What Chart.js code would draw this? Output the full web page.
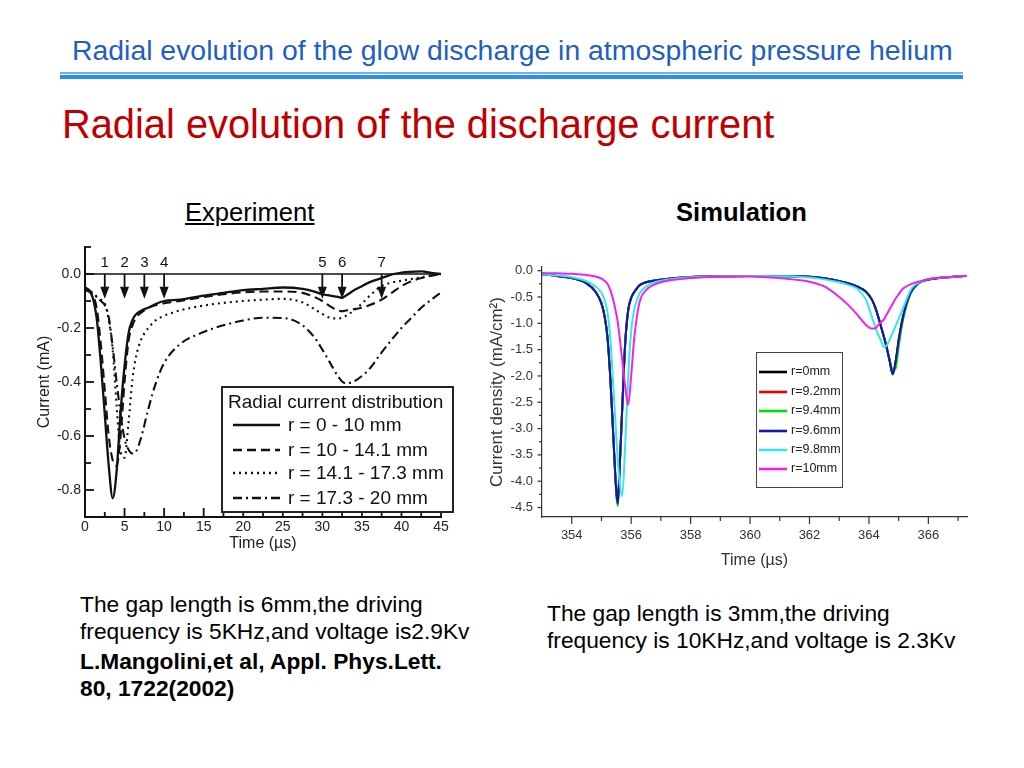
<!DOCTYPE html>
<html><head><meta charset="utf-8">
<script src="https://cdn.jsdelivr.net/npm/chart.js@4.4.1/dist/chart.umd.min.js"></script>
<style>
body{margin:0;width:1024px;height:768px;background:#fff;position:relative;overflow:hidden;font-family:"Liberation Sans",Arial,sans-serif;color:#000;}
.t{position:absolute;white-space:nowrap;line-height:1.2;}
canvas{position:absolute;}
</style></head><body>
<div class="t" style="left:72px;top:33px;font-size:28.4px;color:#1f5fbf">Radial evolution of the glow discharge in atmospheric pressure helium</div>
<div style="position:absolute;left:60px;top:72px;width:903px;height:2px;background:#6ab4f5"></div>
<div style="position:absolute;left:60px;top:75px;width:903px;height:4px;background:#2a8cee"></div>
<div class="t" style="left:62px;top:101px;font-size:39.8px;color:#c00000">Radial evolution of the discharge current</div>
<div class="t" style="left:185px;top:197px;font-size:25.6px;text-decoration:underline">Experiment</div>
<div class="t" style="left:676px;top:197px;font-size:25.6px;font-weight:bold">Simulation</div>

<div class="t" style="left:80px;top:591px;font-size:22.75px">The gap length is 6mm,the driving</div>
<div class="t" style="left:80px;top:618px;font-size:22.75px">frequency is 5KHz,and voltage is2.9Kv</div>
<div class="t" style="left:80px;top:648px;font-size:22.75px;font-weight:bold">L.Mangolini,et al, Appl. Phys.Lett.</div>
<div class="t" style="left:80px;top:675px;font-size:22.75px;font-weight:bold">80, 1722(2002)</div>
<div class="t" style="left:547px;top:600px;font-size:22.75px">The gap length is 3mm,the driving</div>
<div class="t" style="left:547px;top:627px;font-size:22.75px">frequency is 10KHz,and voltage is 2.3Kv</div>

<canvas id="c1" width="480" height="340" style="left:0px;top:230px;width:480px;height:340px"></canvas>
<canvas id="c2" width="544" height="340" style="left:480px;top:240px;width:544px;height:340px"></canvas>

<script>
// ---------- Experiment (left) data ----------
const tL = [0,0.5,1,1.5,2,2.5,3,3.5,4,4.5,5,5.5,6,6.5,7,7.5,8,9,10,12,15,17.5,20,22.5,25,27.5,29,30,31,32,32.5,33,34,35,36,37.5,39,40,41,42.5,44,45];
const expR0_10 = [-0.05,-0.06,-0.09,-0.17,-0.33,-0.52,-0.71,-0.83,-0.73,-0.51,-0.34,-0.22,-0.17,-0.148,-0.138,-0.13,-0.125,-0.11,-0.10,-0.095,-0.08,-0.07,-0.06,-0.055,-0.05,-0.055,-0.065,-0.075,-0.08,-0.085,-0.088,-0.08,-0.06,-0.045,-0.03,-0.015,0.0,0.005,0.008,0.01,0.003,0.0];
const expR10_141 = [-0.06,-0.065,-0.08,-0.13,-0.26,-0.43,-0.6,-0.69,-0.71,-0.6,-0.4,-0.25,-0.19,-0.16,-0.145,-0.135,-0.125,-0.115,-0.108,-0.1,-0.085,-0.075,-0.068,-0.065,-0.065,-0.07,-0.085,-0.1,-0.12,-0.135,-0.138,-0.135,-0.13,-0.125,-0.115,-0.095,-0.065,-0.045,-0.03,-0.015,-0.005,0.0];
const expR141_173 = [-0.06,-0.065,-0.075,-0.085,-0.095,-0.11,-0.17,-0.28,-0.49,-0.66,-0.68,-0.55,-0.39,-0.3,-0.25,-0.22,-0.2,-0.17,-0.155,-0.135,-0.117,-0.107,-0.1,-0.095,-0.092,-0.105,-0.13,-0.148,-0.162,-0.165,-0.162,-0.155,-0.135,-0.11,-0.08,-0.045,-0.03,-0.025,-0.02,-0.012,-0.005,0.0];
const expR173_20 = [-0.05,-0.06,-0.07,-0.085,-0.1,-0.115,-0.16,-0.27,-0.4,-0.52,-0.61,-0.65,-0.665,-0.655,-0.615,-0.56,-0.5,-0.4,-0.33,-0.26,-0.215,-0.19,-0.172,-0.162,-0.163,-0.19,-0.235,-0.28,-0.33,-0.38,-0.398,-0.405,-0.398,-0.378,-0.35,-0.29,-0.235,-0.2,-0.17,-0.125,-0.09,-0.068];
const expLabels = ['r = 0 - 10 mm','r = 10 - 14.1 mm','r = 14.1 - 17.3 mm','r = 17.3 - 20 mm'];
const leftXTicks = [0,5,10,15,20,25,30,35,40,45];
const leftYTicks = [0.0,-0.2,-0.4,-0.6,-0.8];
const arrowTimes = [2.5,5,7.5,10,30,32.5,37.5];
const arrowLabels = ['1','2','3','4','5','6','7'];

// ---------- Simulation (right) data ----------
const tR = [353,353.5,354,354.5,354.8,355,355.1,355.2,355.3,355.4,355.5,355.55,355.6,355.7,355.8,355.9,356,356.1,356.2,356.3,356.5,356.8,357,357.5,358,359,360,361,361.5,362,362.5,363,363.3,363.6,363.9,364.1,364.2,364.3,364.4,364.5,364.6,364.7,364.8,364.9,365,365.1,365.2,365.4,365.6,365.8,366,366.5,367,367.3];
const simR0   = [-0.07,-0.1,-0.14,-0.24,-0.4,-0.62,-0.85,-1.25,-2.05,-3.15,-4.18,-4.38,-3.9,-2.6,-1.37,-0.75,-0.52,-0.41,-0.33,-0.27,-0.22,-0.185,-0.17,-0.14,-0.12,-0.105,-0.1,-0.1,-0.105,-0.115,-0.145,-0.2,-0.24,-0.3,-0.4,-0.55,-0.68,-0.85,-1.05,-1.25,-1.47,-1.72,-1.97,-1.72,-1.32,-1.0,-0.75,-0.42,-0.27,-0.2,-0.17,-0.13,-0.11,-0.1];
const simR92  = [-0.07,-0.1,-0.14,-0.24,-0.4,-0.62,-0.85,-1.25,-2.05,-3.15,-4.2,-4.44,-3.92,-2.62,-1.38,-0.76,-0.52,-0.41,-0.33,-0.27,-0.22,-0.185,-0.17,-0.14,-0.12,-0.105,-0.1,-0.1,-0.105,-0.115,-0.145,-0.2,-0.24,-0.3,-0.4,-0.55,-0.68,-0.85,-1.04,-1.24,-1.46,-1.7,-1.93,-1.76,-1.38,-1.04,-0.77,-0.43,-0.27,-0.2,-0.17,-0.13,-0.11,-0.1];
const simR94  = [-0.07,-0.1,-0.14,-0.24,-0.4,-0.62,-0.85,-1.25,-2.05,-3.15,-4.25,-4.47,-3.95,-2.62,-1.38,-0.76,-0.52,-0.41,-0.33,-0.27,-0.22,-0.185,-0.17,-0.14,-0.12,-0.105,-0.1,-0.1,-0.105,-0.115,-0.145,-0.2,-0.24,-0.3,-0.4,-0.55,-0.68,-0.85,-1.04,-1.24,-1.46,-1.69,-1.9,-1.85,-1.45,-1.08,-0.8,-0.44,-0.28,-0.2,-0.17,-0.13,-0.11,-0.1];
const simR96  = [-0.07,-0.1,-0.14,-0.24,-0.4,-0.62,-0.85,-1.25,-2.05,-3.15,-4.2,-4.42,-3.9,-2.6,-1.37,-0.75,-0.52,-0.41,-0.33,-0.27,-0.22,-0.185,-0.17,-0.14,-0.12,-0.105,-0.1,-0.1,-0.105,-0.115,-0.145,-0.2,-0.24,-0.3,-0.4,-0.55,-0.68,-0.85,-1.05,-1.25,-1.47,-1.72,-1.96,-1.72,-1.32,-1.0,-0.75,-0.42,-0.27,-0.2,-0.17,-0.13,-0.11,-0.1];
const simR98  = [-0.07,-0.09,-0.125,-0.2,-0.3,-0.42,-0.55,-0.78,-1.3,-2.2,-3.15,-3.6,-3.95,-4.28,-3.3,-2.0,-1.15,-0.75,-0.55,-0.42,-0.3,-0.22,-0.19,-0.15,-0.125,-0.105,-0.1,-0.105,-0.11,-0.13,-0.165,-0.22,-0.27,-0.34,-0.55,-0.88,-1.05,-1.2,-1.32,-1.45,-1.42,-1.3,-1.18,-1.05,-0.92,-0.78,-0.64,-0.37,-0.25,-0.2,-0.16,-0.13,-0.11,-0.1];
const simR10  = [-0.045,-0.05,-0.06,-0.08,-0.11,-0.15,-0.19,-0.25,-0.37,-0.56,-0.82,-0.98,-1.2,-1.7,-2.2,-2.55,-2.0,-1.3,-0.85,-0.56,-0.37,-0.26,-0.22,-0.17,-0.14,-0.115,-0.11,-0.14,-0.17,-0.21,-0.3,-0.5,-0.65,-0.83,-1.03,-1.1,-1.1,-1.04,-0.98,-0.93,-0.83,-0.73,-0.63,-0.53,-0.45,-0.37,-0.32,-0.26,-0.22,-0.19,-0.16,-0.13,-0.11,-0.1];
const simLabels = ['r=0mm','r=9.2mm','r=9.4mm','r=9.6mm','r=9.8mm','r=10mm'];
const simColors = ['#000000','#e60000','#00dd00','#1414b4','#38e4f0','#ee22ee'];
const rightXTicks = [354,356,358,360,362,364,366];
const rightYTicks = [0.0,-0.5,-1.0,-1.5,-2.0,-2.5,-3.0,-3.5,-4.0,-4.5];

const pts = (ts, vs) => ts.map((t,i)=>({x:t,y:vs[i]}));
Chart.defaults.font.family = '"Liberation Sans", Arial, sans-serif';

// ---------- left chart ----------
const leftStyles = [
  {dash:[], w:2.3},
  {dash:[9,5], w:2.1},
  {dash:[2,4], w:2.1},
  {dash:[9,4,2,4], w:2.1}
];
const expSeries = [expR0_10, expR10_141, expR141_173, expR173_20];

const leftDecor = {
  id:'leftDecor',
  afterDatasetsDraw(chart){
    const {ctx, chartArea:ca, scales:{x,y}} = chart;
    ctx.save();
    ctx.strokeStyle='#111'; ctx.fillStyle='#111';
    ctx.lineWidth=1.6;
    ctx.beginPath(); ctx.moveTo(x.getPixelForValue(0), y.getPixelForValue(0)); ctx.lineTo(x.getPixelForValue(45), y.getPixelForValue(0)); ctx.stroke();
    ctx.lineWidth=1.8;
    for(let k=-8;k<=1;k++){
      const py=y.getPixelForValue(k/10); const len=(k%2===0)?9:6;
      ctx.beginPath(); ctx.moveTo(ca.left,py); ctx.lineTo(ca.left+len,py); ctx.stroke();
    }
    for(let k=1;k<=18;k++){
      const px=x.getPixelForValue(k*2.5); const len=(k%2===0)?9:5;
      ctx.beginPath(); ctx.moveTo(px,ca.bottom); ctx.lineTo(px,ca.bottom-len); ctx.stroke();
    }
    ctx.font='15px "Liberation Sans", Arial, sans-serif';
    ctx.textAlign='center'; ctx.textBaseline='middle';
    arrowTimes.forEach((t,i)=>{
      const px=x.getPixelForValue(t), y0=y.getPixelForValue(0), yt=y.getPixelForValue(-0.092);
      ctx.lineWidth=1.8;
      ctx.beginPath(); ctx.moveTo(px,y0); ctx.lineTo(px,yt-8); ctx.stroke();
      ctx.beginPath(); ctx.moveTo(px-4.5,yt-12); ctx.lineTo(px+4.5,yt-12); ctx.lineTo(px,yt); ctx.closePath(); ctx.fill();
      ctx.fillText(arrowLabels[i], px, y.getPixelForValue(0.043));
    });
    const L=ca.left+137, T=ca.top+140, W=231, H=125;
    ctx.fillStyle='#fff'; ctx.fillRect(L,T,W,H);
    ctx.lineWidth=2; ctx.strokeStyle='#222'; ctx.strokeRect(L,T,W,H);
    ctx.fillStyle='#111'; ctx.textAlign='left';
    ctx.font='19px "Liberation Sans", Arial, sans-serif';
    ctx.fillText('Radial current distribution', L+6, T+16);
    const rows=[38,63,86,111];
    chart.data.datasets.forEach((ds,i)=>{
      const yy=T+rows[i];
      ctx.strokeStyle='#111'; ctx.lineWidth=leftStyles[i].w+0.3; ctx.setLineDash(leftStyles[i].dash);
      ctx.beginPath(); ctx.moveTo(L+11,yy); ctx.lineTo(L+58,yy); ctx.stroke();
      ctx.setLineDash([]);
      ctx.fillText(ds.label, L+66, yy+1);
    });
    ctx.restore();
  }
};

new Chart(document.getElementById('c1'), {
  type:'line',
  data:{datasets: expSeries.map((s,i)=>({
    label: expLabels[i], data: pts(tL, s), borderColor:'#111', borderWidth:leftStyles[i].w,
    borderDash:leftStyles[i].dash, pointRadius:0, fill:false, cubicInterpolationMode:'monotone'
  }))},
  options:{
    responsive:false, animation:false, events:[], devicePixelRatio:1,
    layout:{padding:{left:0,right:39,top:17,bottom:0}},
    plugins:{legend:{display:false}, tooltip:{enabled:false}},
    scales:{
      x:{type:'linear', min:0, max:45,
        afterFit(s){s.height=53;},
        afterBuildTicks(s){s.ticks=leftXTicks.map(v=>({value:v}));},
        grid:{display:false, drawTicks:false}, border:{display:true,color:'#111',width:2},
        ticks:{padding:2,color:'#222',font:{size:14},maxRotation:0,autoSkip:false,callback:v=>String(v)},
        title:{display:true,text:'Time (\u00b5s)',color:'#222',font:{size:16},padding:{top:0,bottom:17}}},
      y:{type:'linear', min:-0.9, max:0.1,
        afterFit(s){s.width=85;},
        afterBuildTicks(s){s.ticks=leftYTicks.map(v=>({value:v}));},
        grid:{display:false, drawTicks:false}, border:{display:true,color:'#111',width:2},
        ticks:{padding:4,color:'#222',font:{size:14},autoSkip:false,callback:v=>Number(v).toFixed(1)},
        title:{display:true,text:'Current (mA)',color:'#222',font:{size:16},padding:{top:35,bottom:0}}}
    }
  },
  plugins:[leftDecor]
});

// ---------- right chart ----------
const simSeries = [simR0, simR92, simR94, simR96, simR98, simR10];
const rightDecor = {
  id:'rightDecor',
  afterDatasetsDraw(chart){
    const {ctx, chartArea:ca, scales:{x,y}} = chart;
    ctx.save();
    ctx.strokeStyle='#333'; ctx.lineWidth=1.2;
    for(let k=0;k<=18;k++){
      const py=y.getPixelForValue(-k*0.25); const len=(k%2===0)?4.5:3;
      ctx.beginPath(); ctx.moveTo(ca.left,py); ctx.lineTo(ca.left-len,py); ctx.stroke();
    }
    for(let v=354;v<=367;v++){
      const px=x.getPixelForValue(v); const len=(v%2===0)?7:4;
      ctx.beginPath(); ctx.moveTo(px,ca.bottom); ctx.lineTo(px,ca.bottom+len); ctx.stroke();
    }
    const L=ca.left+214, T=ca.top+85, W=86, H=135;
    ctx.fillStyle='#fff'; ctx.fillRect(L,T,W,H);
    ctx.strokeStyle='#444'; ctx.lineWidth=1; ctx.strokeRect(L+0.5,T+0.5,W,H);
    const rows=[20,40,59,79,98,117];
    ctx.font='12.5px "Liberation Sans", Arial, sans-serif';
    ctx.textAlign='left'; ctx.textBaseline='middle'; ctx.fillStyle='#222';
    chart.data.datasets.forEach((ds,i)=>{
      const yy=T+rows[i];
      ctx.strokeStyle=ds.borderColor; ctx.lineWidth=2.6;
      ctx.beginPath(); ctx.moveTo(L+3,yy); ctx.lineTo(L+31,yy); ctx.stroke();
      ctx.fillText(ds.label, L+35, yy);
    });
    ctx.restore();
  }
};
const simOrder = [6,5,4,3,2,1];
new Chart(document.getElementById('c2'), {
  type:'line',
  data:{datasets: simSeries.map((s,i)=>({
    label: simLabels[i], data: pts(tR, s), borderColor: simColors[i], borderWidth:2,
    pointRadius:0, fill:false, cubicInterpolationMode:'monotone', order: simOrder[i]
  }))},
  options:{
    responsive:false, animation:false, events:[], devicePixelRatio:1,
    layout:{padding:{left:0,right:57,top:27,bottom:0}},
    plugins:{legend:{display:false}, tooltip:{enabled:false}},
    scales:{
      x:{type:'linear', min:353, max:367.3,
        afterFit(s){s.height=63;},
        afterBuildTicks(s){s.ticks=rightXTicks.map(v=>({value:v}));},
        grid:{display:false, drawTicks:false}, border:{display:true,color:'#333',width:1.2},
        ticks:{padding:11,color:'#333',font:{size:13},maxRotation:0,autoSkip:false,callback:v=>String(v)},
        title:{display:true,text:'Time (\u00b5s)',color:'#333',font:{size:16},padding:{top:0,bottom:10}}},
      y:{type:'linear', min:-4.68, max:0.07,
        afterFit(s){s.width=62;},
        afterBuildTicks(s){s.ticks=rightYTicks.map(v=>({value:v}));},
        grid:{display:false, drawTicks:false}, border:{display:true,color:'#333',width:1.2},
        ticks:{padding:9,color:'#333',font:{size:13},autoSkip:false,callback:v=>Number(v).toFixed(1)},
        title:{display:true,text:'Current density (mA/cm\u00b2)',color:'#333',font:{size:17},padding:{top:7,bottom:0}}}
    }
  },
  plugins:[rightDecor]
});
</script>
</body></html>
